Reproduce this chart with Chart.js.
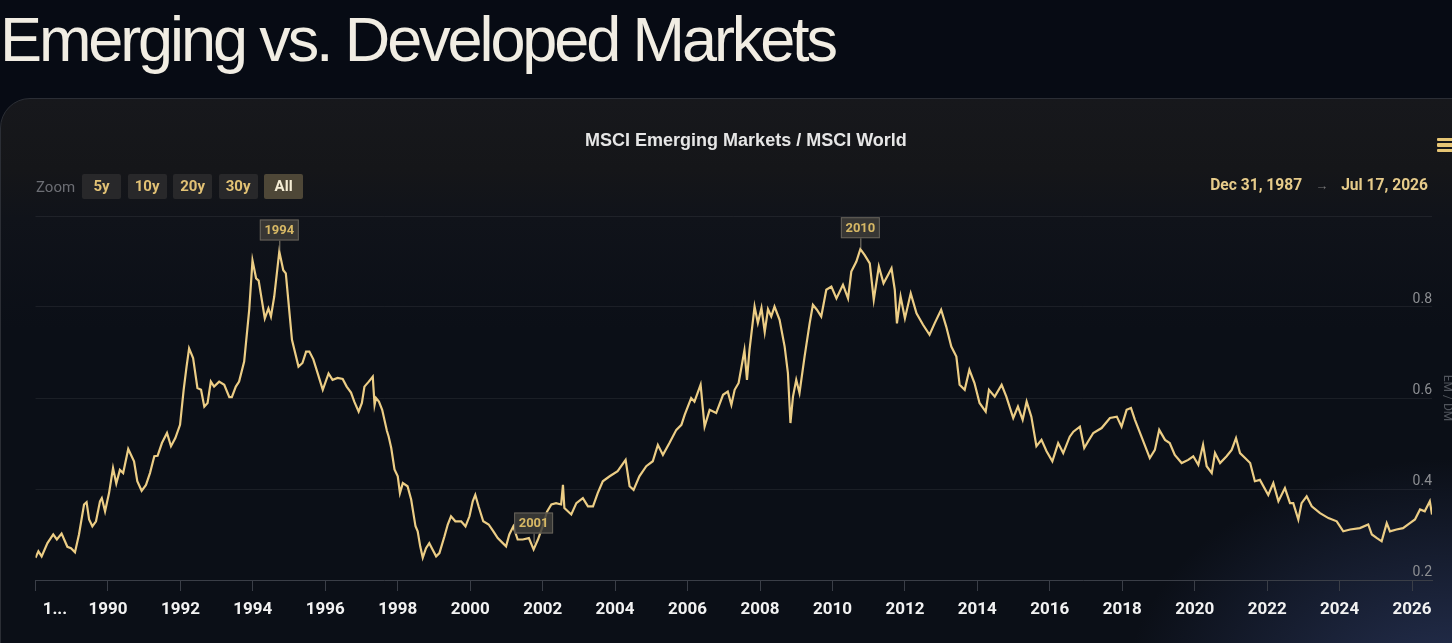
<!DOCTYPE html>
<html>
<head>
<meta charset="utf-8">
<script src="https://cdn.jsdelivr.net/npm/chart.js@4.4.1/dist/chart.umd.min.js"></script>
<style>
  html, body { margin: 0; padding: 0; width: 1452px; height: 643px; overflow: hidden; background: #070b14; font-family: Roboto, sans-serif; }
  h1 { position: absolute; left: 0; top: 8px; margin: 0; font: 400 63px/63px "Liberation Sans", Arial, sans-serif;
       letter-spacing: -3.1px; color: #f1ede3; white-space: nowrap; }
  .card { position: absolute; left: 0; top: 98px; width: 1510px; height: 600px; box-sizing: border-box;
          border: 1px solid #2b2e35; border-radius: 30px;
          background:
            radial-gradient(ellipse 330px 240px at 1452px 600px, rgba(56,72,122,0.6), rgba(56,72,122,0) 100%),
            linear-gradient(180deg, #17181c 0px, #151619 70px, #10131a 120px, #0b0f17 230px, #0b0f17 100%); }
  .wrap { position: absolute; left: 0; top: 98px; width: 1500px; height: 545px; }
  .zoom { position: absolute; top: 174px; left: 36px; height: 25px; display: flex; align-items: center; }
  .zoom span.lbl { color: #6c6e74; font-size: 15px; margin-right: 7px; }
  .zoom span.btn { display: inline-block; width: 39px; height: 25px; line-height: 25px; text-align: center;
                   background: #28282a; color: #e2c275; font-weight: 700; font-size: 15px; margin-right: 6.5px; border-radius: 2px; }
  .zoom span.btn.on { background: #4e4737; color: #f4ecd4; }
  .range { position: absolute; top: 176px; right: 24px; color: #e6cb8a; font-weight: 700; font-size: 15.6px; white-space: nowrap; }
  .range .arr { color: #7a7a7a; font-weight: 400; font-size: 13px; margin: 0 13px; }
  .menu { position: absolute; left: 1437px; width: 18px; height: 3.5px; background: #e6c574; border-radius: 1px; }
</style>
</head>
<body>
<h1>Emerging vs. Developed Markets</h1>
<div class="card"></div>
<div class="wrap"><canvas id="emdm"></canvas></div>
<div class="zoom">
  <span class="lbl">Zoom</span><span class="btn">5y</span><span class="btn">10y</span><span class="btn">20y</span><span class="btn">30y</span><span class="btn on">All</span>
</div>
<div class="range">Dec 31, 1987<span class="arr">→</span>Jul 17, 2026</div>
<div class="menu" style="top:137.5px"></div>
<div class="menu" style="top:143px"></div>
<div class="menu" style="top:148.5px"></div>
<script>
// MSCI EM / MSCI World ratio (decimal years)
const years = [
  1988.00, 1988.08, 1988.17, 1988.33, 1988.49, 1988.59, 1988.72, 1988.88, 1988.98, 1989.09,
  1989.20, 1989.34, 1989.41, 1989.48, 1989.57, 1989.67, 1989.78, 1989.83, 1989.92, 1990.03,
  1990.14, 1990.23, 1990.33, 1990.42, 1990.56, 1990.72, 1990.81, 1990.93, 1991.05, 1991.16,
  1991.28, 1991.37, 1991.49, 1991.63, 1991.74, 1991.86, 1991.99, 1992.09, 1992.17, 1992.24,
  1992.35, 1992.47, 1992.57, 1992.66, 1992.75, 1992.84, 1992.93, 1993.07, 1993.21, 1993.35,
  1993.42, 1993.53, 1993.62, 1993.76, 1993.90, 1993.99, 1994.09, 1994.16, 1994.33, 1994.43,
  1994.50, 1994.59, 1994.73, 1994.84, 1994.91, 1995.08, 1995.26, 1995.37, 1995.47, 1995.56,
  1995.67, 1995.79, 1995.93, 1996.09, 1996.20, 1996.34, 1996.48, 1996.59, 1996.71, 1996.80,
  1996.92, 1997.01, 1997.08, 1997.20, 1997.31, 1997.36, 1997.40, 1997.48, 1997.57, 1997.70,
  1997.75, 1997.82, 1997.91, 1998.00, 1998.06, 1998.14, 1998.27, 1998.37, 1998.49, 1998.55,
  1998.62, 1998.69, 1998.78, 1998.87, 1998.96, 1999.06, 1999.15, 1999.29, 1999.38, 1999.47,
  1999.59, 1999.75, 1999.87, 1999.98, 2000.07, 2000.14, 2000.23, 2000.36, 2000.51, 2000.64,
  2000.76, 2000.90, 2000.99, 2001.08, 2001.19, 2001.31, 2001.45, 2001.62, 2001.75, 2001.87,
  2002.00, 2002.12, 2002.24, 2002.37, 2002.51, 2002.56, 2002.60, 2002.79, 2002.93, 2003.11,
  2003.25, 2003.39, 2003.52, 2003.66, 2003.85, 2004.07, 2004.29, 2004.40, 2004.51, 2004.67,
  2004.86, 2005.04, 2005.18, 2005.32, 2005.50, 2005.69, 2005.83, 2005.92, 2006.10, 2006.19,
  2006.36, 2006.47, 2006.61, 2006.79, 2006.98, 2007.11, 2007.21, 2007.30, 2007.41, 2007.57,
  2007.64, 2007.71, 2007.85, 2007.94, 2008.04, 2008.13, 2008.22, 2008.31, 2008.40, 2008.54,
  2008.68, 2008.77, 2008.84, 2008.91, 2009.00, 2009.09, 2009.23, 2009.37, 2009.46, 2009.57,
  2009.69, 2009.83, 2009.97, 2010.11, 2010.29, 2010.43, 2010.52, 2010.66, 2010.77, 2010.89,
  2011.03, 2011.14, 2011.28, 2011.41, 2011.53, 2011.63, 2011.72, 2011.78, 2011.88, 2012.00,
  2012.16, 2012.32, 2012.50, 2012.68, 2012.82, 2013.00, 2013.14, 2013.28, 2013.42, 2013.51,
  2013.65, 2013.78, 2013.92, 2014.06, 2014.23, 2014.32, 2014.48, 2014.67, 2014.80, 2014.99,
  2015.12, 2015.25, 2015.36, 2015.49, 2015.63, 2015.77, 2015.91, 2016.07, 2016.23, 2016.37,
  2016.55, 2016.65, 2016.83, 2016.95, 2017.06, 2017.20, 2017.43, 2017.66, 2017.85, 2017.98,
  2018.12, 2018.24, 2018.35, 2018.53, 2018.76, 2018.90, 2019.02, 2019.18, 2019.31, 2019.45,
  2019.64, 2019.82, 2019.96, 2020.10, 2020.23, 2020.33, 2020.47, 2020.56, 2020.70, 2020.88,
  2021.02, 2021.14, 2021.25, 2021.39, 2021.53, 2021.66, 2021.80, 2022.03, 2022.17, 2022.31,
  2022.49, 2022.63, 2022.72, 2022.86, 2022.95, 2023.09, 2023.23, 2023.46, 2023.69, 2023.92,
  2024.10, 2024.29, 2024.56, 2024.79, 2024.89, 2025.03, 2025.16, 2025.30, 2025.39, 2025.57,
  2025.75, 2025.94, 2026.08, 2026.22, 2026.35, 2026.49, 2026.55
];
const ratio = [
  0.249, 0.263, 0.252, 0.281, 0.300, 0.289, 0.302, 0.273, 0.270, 0.261,
  0.300, 0.366, 0.371, 0.333, 0.318, 0.329, 0.373, 0.380, 0.351, 0.391,
  0.446, 0.412, 0.442, 0.435, 0.488, 0.461, 0.417, 0.396, 0.409, 0.435,
  0.472, 0.473, 0.501, 0.523, 0.494, 0.512, 0.541, 0.618, 0.669, 0.709,
  0.688, 0.622, 0.618, 0.581, 0.589, 0.636, 0.625, 0.636, 0.629, 0.602,
  0.602, 0.625, 0.636, 0.680, 0.794, 0.902, 0.863, 0.858, 0.775, 0.797,
  0.779, 0.823, 0.922, 0.881, 0.874, 0.728, 0.669, 0.677, 0.702, 0.702,
  0.685, 0.654, 0.618, 0.654, 0.640, 0.644, 0.642, 0.625, 0.612, 0.592,
  0.570, 0.589, 0.625, 0.636, 0.647, 0.585, 0.600, 0.592, 0.574, 0.528,
  0.515, 0.490, 0.443, 0.428, 0.391, 0.413, 0.406, 0.377, 0.318, 0.307,
  0.274, 0.249, 0.270, 0.281, 0.267, 0.252, 0.259, 0.296, 0.322, 0.340,
  0.329, 0.329, 0.318, 0.340, 0.373, 0.387, 0.362, 0.329, 0.322, 0.307,
  0.292, 0.281, 0.274, 0.300, 0.318, 0.289, 0.289, 0.292, 0.267, 0.289,
  0.318, 0.350, 0.366, 0.369, 0.366, 0.409, 0.358, 0.344, 0.369, 0.380,
  0.362, 0.362, 0.391, 0.417, 0.428, 0.439, 0.464, 0.406, 0.398, 0.428,
  0.450, 0.461, 0.497, 0.475, 0.501, 0.530, 0.541, 0.563, 0.600, 0.592,
  0.629, 0.537, 0.574, 0.567, 0.607, 0.614, 0.585, 0.618, 0.633, 0.705,
  0.640, 0.706, 0.801, 0.765, 0.798, 0.745, 0.795, 0.779, 0.801, 0.772,
  0.713, 0.655, 0.545, 0.603, 0.640, 0.611, 0.691, 0.764, 0.805, 0.794,
  0.779, 0.838, 0.845, 0.819, 0.849, 0.819, 0.878, 0.900, 0.927, 0.914,
  0.896, 0.816, 0.889, 0.852, 0.870, 0.885, 0.838, 0.764, 0.823, 0.775,
  0.830, 0.786, 0.761, 0.739, 0.764, 0.794, 0.757, 0.713, 0.691, 0.629,
  0.618, 0.662, 0.633, 0.589, 0.570, 0.618, 0.603, 0.629, 0.603, 0.556,
  0.581, 0.552, 0.592, 0.559, 0.494, 0.508, 0.483, 0.461, 0.501, 0.479,
  0.515, 0.526, 0.537, 0.490, 0.505, 0.523, 0.534, 0.556, 0.559, 0.537,
  0.574, 0.578, 0.552, 0.515, 0.468, 0.486, 0.530, 0.508, 0.501, 0.475,
  0.457, 0.464, 0.472, 0.453, 0.497, 0.450, 0.435, 0.479, 0.457, 0.472,
  0.486, 0.512, 0.479, 0.468, 0.457, 0.417, 0.420, 0.387, 0.413, 0.373,
  0.402, 0.369, 0.369, 0.333, 0.369, 0.384, 0.362, 0.347, 0.336, 0.329,
  0.307, 0.311, 0.314, 0.322, 0.300, 0.292, 0.285, 0.325, 0.307, 0.311,
  0.314, 0.325, 0.333, 0.355, 0.351, 0.373, 0.344
];

// flagged points
const flagText = ['1994', '2001', '2010'];
const flagYears = [1994.73, 2001.75, 2010.77];
const flagValues = [0.922, 0.278, 0.927];

const yTicks = [0.2, 0.4, 0.6, 0.8];

const flagPlugin = {
  id: 'flags',
  afterDatasetsDraw(chart) {
    const { ctx, scales: { x, y } } = chart;
    ctx.save();
    ctx.font = '700 13px Roboto, sans-serif';
    ctx.textAlign = 'center';
    ctx.textBaseline = 'middle';
    flagText.forEach((t, i) => {
      const px = x.getPixelForValue(flagYears[i]);
      const py = y.getPixelForValue(flagValues[i]);
      const w = 39, h = 21, bottom = py - 11;
      ctx.strokeStyle = '#8a8474';
      ctx.lineWidth = 1;
      ctx.beginPath(); ctx.moveTo(px + 0.5, py - 1); ctx.lineTo(px + 0.5, bottom); ctx.stroke();
      ctx.fillStyle = 'rgba(62,61,58,0.85)';
      ctx.fillRect(px - w / 2, bottom - h, w, h);
      ctx.strokeStyle = '#66625a';
      ctx.strokeRect(px - w / 2 + 0.5, bottom - h + 0.5, w - 1, h - 1);
      ctx.fillStyle = '#d7b865';
      ctx.fillText(t, px, bottom - h / 2 + 1);
    });
    ctx.restore();
  }
};

Chart.defaults.font.family = 'Roboto, sans-serif';

new Chart(document.getElementById('emdm'), {
  type: 'line',
  data: {
    datasets: [{
      label: 'EM / DM',
      data: years.map((yr, i) => ({ x: yr, y: ratio[i] })),
      borderColor: '#eccd85',
      borderWidth: 2.2,
      pointRadius: 0,
      tension: 0,
      fill: false,
    }],
  },
  options: {
    responsive: true,
    maintainAspectRatio: false,
    animation: false,
    layout: { padding: { left: 35.5, right: 43.6, top: 0, bottom: 13.6 } },
    plugins: {
      legend: { display: false },
      tooltip: { enabled: false },
      title: {
        display: true,
        text: 'MSCI Emerging Markets / MSCI World',
        color: '#e6e6e6',
        font: { family: '"Liberation Sans", Arial, sans-serif', size: 18, weight: '700' },
        padding: { top: 32, bottom: 64.4 },
      },
    },
    scales: {
      x: {
        type: 'linear',
        min: 1988,
        max: 2026.55,
        grid: { drawOnChartArea: false, drawTicks: true, tickLength: 11, color: '#3a3e47' },
        border: { display: true, color: '#3a3e47' },
        // the shifted first label must not push the plot area to the right
        afterFit: axis => { axis.paddingLeft = 0; },
        ticks: {
          stepSize: 2,
          includeBounds: false,
          autoSkip: false,
          maxRotation: 0,
          padding: 9,
          color: '#f2f2f2',
          font: { size: 17, weight: '700' },
          // first label is truncated and pushed inside the plot, as in the original
          callback: v => (v === 1988 ? '\u2003\u2003 1...' : String(v)),
        },
      },
      y: {
        position: 'right',
        min: 0.2,
        max: 1.0,
        afterBuildTicks: axis => { axis.ticks = [...yTicks, 1.0].map(v => ({ value: v })); },
        grid: { color: 'rgba(255,255,255,0.065)', drawTicks: false },
        border: { display: false },
        ticks: {
          mirror: true,
          padding: 0,
          labelOffset: -8,
          color: '#8c8e92',
          font: { size: 14 },
          callback: v => (yTicks.includes(v) ? v.toFixed(1) : ''),
        },
        title: {
          display: true,
          text: 'EM / DM',
          color: '#50545c',
          font: { size: 12 },
          padding: { top: 2, bottom: 8 },
        },
      },
    },
  },
  plugins: [flagPlugin],
});
</script>
</body>
</html>
